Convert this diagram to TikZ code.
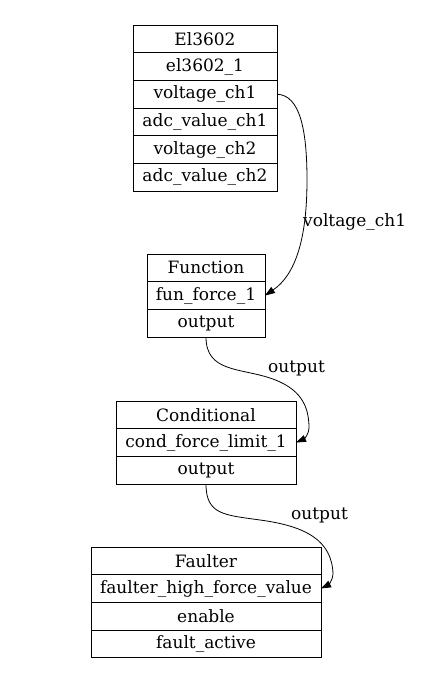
\documentclass[tikz,border=0pt]{standalone}
\usepackage{fontspec}
\setmainfont{DejaVu Serif}
\usetikzlibrary{positioning,arrows.meta}
\tikzset{>={Triangle[length=10pt,width=7pt]}}
\tikzset{cell/.style={draw, line width=0.8pt, minimum height=27.7pt, inner sep=0pt, outer sep=0pt, font=\fontsize{17}{20}\selectfont}}
\tikzset{lbl/.style={inner sep=0pt, font=\fontsize{17}{20}\selectfont}}

\begin{document}
\begin{tikzpicture}[x=1pt,y=-1pt]
  \useasboundingbox (0,0) rectangle (421,676);

  % El3602
  \node[cell, minimum width=144pt, anchor=north] (el) at (205,25) {El3602};
  \node[cell, minimum width=144pt, below=0pt of el] (elname) {el3602\_1};
  \node[cell, minimum width=144pt, below=0pt of elname] (elvch1) {voltage\_ch1};
  \node[cell, minimum width=144pt, below=0pt of elvch1] (eladc1) {adc\_value\_ch1};
  \node[cell, minimum width=144pt, below=0pt of eladc1] (elvch2) {voltage\_ch2};
  \node[cell, minimum width=144pt, below=0pt of elvch2] (eladc2) {adc\_value\_ch2};

  % Function
  \node[cell, minimum width=118pt, anchor=north] (fun) at (206,254) {Function};
  \node[cell, minimum width=118pt, below=0pt of fun] (funname) {fun\_force\_1};
  \node[cell, minimum width=118pt, below=0pt of funname] (funout) {output};

  % Conditional
  \node[cell, minimum width=180pt, anchor=north] (cond) at (206,401) {Conditional};
  \node[cell, minimum width=180pt, below=0pt of cond] (condname) {cond\_force\_limit\_1};
  \node[cell, minimum width=180pt, below=0pt of condname] (condout) {output};

  % Faulter
  \node[cell, minimum width=230pt, anchor=north] (flt) at (206,547) {Faulter};
  \node[cell, minimum width=230pt, below=0pt of flt] (fltname) {faulter\_high\_force\_value};
  \node[cell, minimum width=230pt, below=0pt of fltname] (fltenable) {enable};
  \node[cell, minimum width=230pt, below=0pt of fltenable] (fltactive) {fault\_active};

  % edges
  \draw[->, line width=0.8pt] (elvch1.east) .. controls (300,95) and (307,130) .. (307,180)
    .. controls (307,240) and (295,275) .. (funname.east);
  \node[lbl, anchor=west] (lblvch1) at (303,222) {voltage\_ch1};

  \draw[->, line width=0.8pt] (funout.south) .. controls (206,372) and (240,368) .. (270,378)
    .. controls (300,388) and (309,405) .. (309,428)
    .. controls (309,434) and (304,439) .. (condname.east);
  \node[lbl] (lblout1) at (296.5,368) {output};

  \draw[->, line width=0.8pt] (condout.south) .. controls (206,515) and (225,515) .. (260,520)
    .. controls (305,526) and (332,540) .. (333,574)
    .. controls (333,580) and (328,585) .. (fltname.east);
  \node[lbl] (lblout2) at (319.5,515) {output};
\end{tikzpicture}
\end{document}
